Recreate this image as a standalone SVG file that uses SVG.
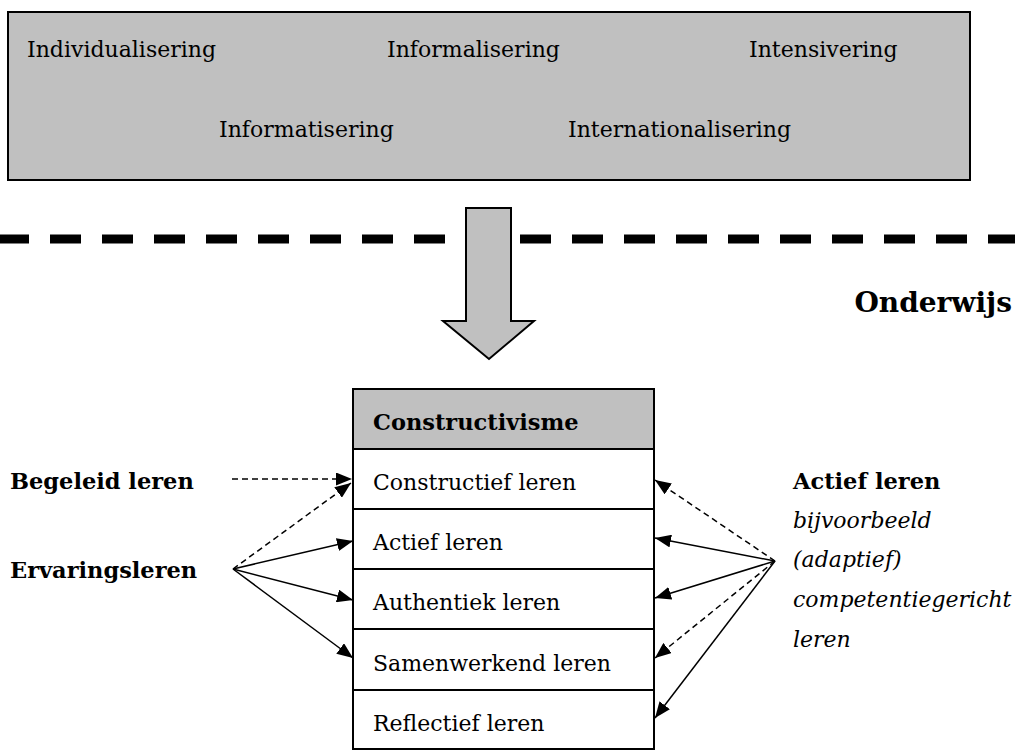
<svg xmlns="http://www.w3.org/2000/svg" width="1015" height="750" viewBox="0 0 1015 750">
<style>
text{font-family:"DejaVu Serif","Liberation Serif",serif;font-size:22px;fill:#000}
.b{font-weight:bold;font-size:22.5px}
.i{font-style:italic}
.big{font-size:28px}
.gray{fill:#c0c0c0;stroke:#000;stroke-width:2}
.cell{fill:#fff;stroke:#000;stroke-width:2}
.c{stroke:#000;stroke-width:1.5;fill:none}
.d{stroke-dasharray:6 4}
</style>
<defs>
<marker id="ah" viewBox="0 0 16 13" refX="16" refY="6.5" markerWidth="16" markerHeight="13" markerUnits="userSpaceOnUse" orient="auto">
<path d="M0,0 L16,6.5 L0,13 Z" fill="#000"/>
</marker>
</defs>
<rect width="1015" height="750" fill="#fff"/>
<g id="trends">
<rect class="gray" x="8" y="12" width="962" height="168"/>
<text x="27" y="57">Individualisering</text>
<text x="387" y="57">Informalisering</text>
<text x="749" y="57">Intensivering</text>
<text x="219" y="137">Informatisering</text>
<text x="568" y="137">Internationalisering</text>
</g>
<g id="divider">
<line x1="445" y1="239" x2="0" y2="239" stroke="#000" stroke-width="9" stroke-dasharray="31 21"/>
<line x1="520" y1="239" x2="1015" y2="239" stroke="#000" stroke-width="9" stroke-dasharray="31 21"/>
</g>
<g id="bigarrow">
<path class="gray" stroke-width="1.5" d="M466,208 L511,208 L511,321 L534,321 L489,359 L443,321 L466,321 Z"/>
</g>
<g id="onderwijs">
<text class="b big" x="1012" y="312" text-anchor="end">Onderwijs</text>
</g>
<g id="constructivisme">
<rect class="gray" x="353" y="389" width="301" height="60"/>
<text class="b" x="373" y="430">Constructivisme</text>
<rect class="cell" x="353" y="449" width="301" height="60"/>
<text x="373" y="490">Constructief leren</text>
<rect class="cell" x="353" y="509" width="301" height="60"/>
<text x="373" y="550">Actief leren</text>
<rect class="cell" x="353" y="569" width="301" height="60"/>
<text x="373" y="610">Authentiek leren</text>
<rect class="cell" x="353" y="629" width="301" height="61"/>
<text x="373" y="671">Samenwerkend leren</text>
<rect class="cell" x="353" y="690" width="301" height="59"/>
<text x="373" y="731">Reflectief leren</text>
</g>
<g id="begeleid">
<text class="b" x="10" y="489">Begeleid leren</text>
</g>
<g id="ervaringsleren">
<text class="b" x="10" y="578">Ervaringsleren</text>
</g>
<g id="actief">
<text class="b" x="793" y="489">Actief leren</text>
<text class="i" x="793" y="528">bijvoorbeeld</text>
<text class="i" x="793" y="567">(adaptief)</text>
<text class="i" x="793" y="607">competentiegericht</text>
<text class="i" x="793" y="647">leren</text>
</g>
<g id="connectors">
<line class="c d" x1="232" y1="479" x2="352" y2="479" marker-end="url(#ah)"/>
<line class="c d" x1="233" y1="569" x2="351" y2="483" marker-end="url(#ah)"/>
<line class="c" x1="233" y1="569" x2="353" y2="541" marker-end="url(#ah)"/>
<line class="c" x1="233" y1="569" x2="353" y2="600" marker-end="url(#ah)"/>
<line class="c" x1="233" y1="569" x2="353" y2="658" marker-end="url(#ah)"/>
<line class="c d" x1="775" y1="561" x2="655" y2="480" marker-end="url(#ah)"/>
<line class="c" x1="775" y1="561" x2="655" y2="538" marker-end="url(#ah)"/>
<line class="c" x1="775" y1="561" x2="655" y2="598" marker-end="url(#ah)"/>
<line class="c d" x1="775" y1="561" x2="655" y2="658" marker-end="url(#ah)"/>
<line class="c" x1="775" y1="561" x2="655" y2="718" marker-end="url(#ah)"/>
</g>
</svg>
